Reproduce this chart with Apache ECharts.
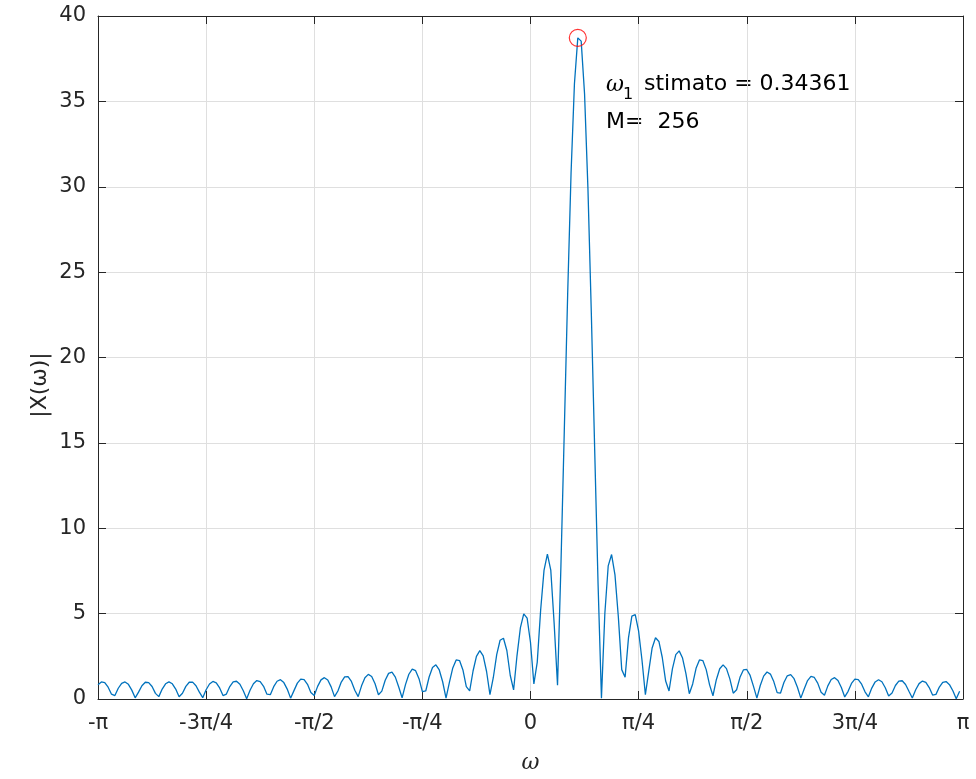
<!DOCTYPE html>
<html>
<head>
  <meta charset="utf-8">
  <title>DFT magnitude</title>
  <script src="https://cdn.jsdelivr.net/npm/echarts@6/dist/echarts.min.js"></script>
</head>
<body style="margin:0">
<div id="main" style="width: 976px;height:779px;"></div>

<script type="text/javascript">
  // |X(w)|, M = 256 campioni da -pi a pi
  const M = 256;
  const magnitude = [
    0.83, 1.00, 0.96, 0.69, 0.28, 0.20, 0.63, 0.92, 1.00, 0.86, 0.52, 0.07, 0.40, 0.78, 0.98, 0.96,
    0.73, 0.33, 0.14, 0.58, 0.89, 1.00, 0.89, 0.58, 0.13, 0.34, 0.74, 0.98, 0.99, 0.78, 0.40, 0.08,
    0.54, 0.88, 1.03, 0.95, 0.65, 0.20, 0.29, 0.73, 1.00, 1.04, 0.86, 0.48, 0.02, 0.51, 0.89, 1.08,
    1.02, 0.74, 0.28, 0.25, 0.72, 1.04, 1.13, 0.96, 0.58, 0.05, 0.49, 0.93, 1.16, 1.14, 0.86, 0.38,
    0.20, 0.74, 1.12, 1.25, 1.11, 0.71, 0.14, 0.47, 0.99, 1.29, 1.31, 1.03, 0.51, 0.14, 0.77, 1.24,
    1.44, 1.32, 0.89, 0.25, 0.46, 1.10, 1.50, 1.57, 1.28, 0.70, 0.07, 0.84, 1.45, 1.75, 1.66, 1.19,
    0.43, 0.47, 1.29, 1.84, 2.00, 1.70, 1.01, 0.05, 0.97, 1.82, 2.29, 2.25, 1.70, 0.72, 0.48, 1.64,
    2.50, 2.83, 2.52, 1.61, 0.26, 1.26, 2.60, 3.44, 3.56, 2.84, 1.39, 0.53, 2.53, 4.16, 4.99, 4.74,
    3.31, 0.88, 2.16, 5.20, 7.53, 8.49, 7.55, 4.42, 0.81, 7.76, 15.69, 23.70, 30.78, 36.02, 38.72, 38.53,
    35.43, 29.89, 22.61, 14.56, 6.71, 0.04, 4.99, 7.80, 8.46, 7.27, 4.80, 1.72, 1.27, 3.58, 4.85, 4.94,
    3.97, 2.27, 0.25, 1.63, 2.99, 3.59, 3.37, 2.43, 1.05, 0.47, 1.77, 2.60, 2.82, 2.40, 1.49, 0.31,
    0.88, 1.80, 2.29, 2.25, 1.72, 0.83, 0.19, 1.13, 1.77, 2.00, 1.78, 1.18, 0.34, 0.54, 1.27, 1.70,
    1.73, 1.38, 0.74, 0.05, 0.79, 1.34, 1.58, 1.46, 1.02, 0.37, 0.35, 0.97, 1.36, 1.43, 1.19, 0.69,
    0.05, 0.59, 1.08, 1.32, 1.26, 0.93, 0.39, 0.22, 0.77, 1.14, 1.25, 1.08, 0.67, 0.12, 0.45, 0.91,
    1.16, 1.14, 0.87, 0.42, 0.13, 0.64, 1.00, 1.13, 1.01, 0.66, 0.17, 0.35, 0.79, 1.05, 1.07, 0.85,
    0.45, 0.06, 0.54, 0.90, 1.05, 0.97, 0.67, 0.23, 0.27, 0.70, 0.97, 1.02, 0.84, 0.48, 0.01, 0.46
  ];
  const xTickLabels = ['-\u03c0', '-3\u03c0/4', '-\u03c0/2', '-\u03c0/4', '0', '\u03c0/4', '\u03c0/2', '3\u03c0/4', '\u03c0'];
  const peakOmega = [0.34361];
  const peakValue = [38.72];

  const omega = magnitude.map(function (v, k) { return -Math.PI + 2 * Math.PI * k / M; });
  const lineData = magnitude.map(function (v, k) { return [omega[k], v]; });
  const peakData = peakOmega.map(function (w, i) { return [w, peakValue[i]]; });

  const axisColor = '#262626';
  const font = 'DejaVu Sans';

  function piLabel(value) {
    const idx = Math.round((value + Math.PI) / (Math.PI / 4));
    return xTickLabels[idx] !== undefined ? xTickLabels[idx] : '';
  }

  let myChart = echarts.init(document.getElementById('main'));
  let option = {
    animation: false,
    grid: {left: 98, right: 13, top: 16, bottom: 78},
    xAxis: [{
      type: 'value',
      min: -Math.PI,
      max: Math.PI,
      interval: Math.PI / 4,
      name: '\u03c9',
      nameLocation: 'middle',
      nameGap: 53,
      nameTextStyle: {fontSize: 22, fontStyle: 'italic', fontFamily: 'DejaVu Serif', color: axisColor},
      axisLine: {onZero: false, lineStyle: {color: axisColor, width: 1}},
      axisTick: {inside: true, length: 8, lineStyle: {color: axisColor}},
      axisLabel: {formatter: piLabel, fontSize: 21, fontFamily: font, color: axisColor, margin: 14},
      splitLine: {show: true, lineStyle: {color: '#dfdfdf', width: 1}}
    }, {
      type: 'value',
      position: 'top',
      min: -Math.PI,
      max: Math.PI,
      interval: Math.PI / 4,
      axisLine: {onZero: false, lineStyle: {color: axisColor, width: 1}},
      axisTick: {inside: true, length: 8, lineStyle: {color: axisColor}},
      axisLabel: {show: false},
      splitLine: {show: false}
    }],
    yAxis: [{
      type: 'value',
      min: 0,
      max: 40,
      interval: 5,
      axisLine: {show: true, onZero: false, lineStyle: {color: axisColor, width: 1}},
      axisTick: {show: true, inside: true, length: 8, lineStyle: {color: axisColor}},
      axisLabel: {fontSize: 21, fontFamily: font, color: axisColor, margin: 12},
      splitLine: {show: true, lineStyle: {color: '#dfdfdf', width: 1}}
    }, {
      type: 'value',
      position: 'right',
      min: 0,
      max: 40,
      interval: 5,
      axisLine: {show: true, onZero: false, lineStyle: {color: axisColor, width: 1}},
      axisTick: {show: true, inside: true, length: 8, lineStyle: {color: axisColor}},
      axisLabel: {show: false},
      splitLine: {show: false}
    }],
    series: [{
      type: 'line',
      data: lineData,
      showSymbol: false,
      lineStyle: {color: '#0072BD', width: 1.3},
      z: 3
    }, {
      type: 'scatter',
      data: peakData,
      symbol: 'circle',
      symbolSize: 17,
      itemStyle: {color: 'rgba(0,0,0,0)', borderColor: '#ff0000', borderWidth: 1.2},
      z: 4
    }],
    graphic: [
      {type: 'text', x: 40, y: 385, rotation: Math.PI / 2,
        style: {text: '|X(\u03c9)|', fontSize: 22, fontFamily: font, fill: axisColor, align: 'center', verticalAlign: 'middle'}},
      {type: 'text', left: 606, top: 74, style: {text: '\u03c9', fontSize: 22, fontStyle: 'italic', fontFamily: 'DejaVu Serif', fill: '#000'}},
      {type: 'text', left: 623, top: 87, style: {text: '1', fontSize: 16, fontFamily: font, fill: '#000'}},
      {type: 'text', left: 644, top: 73, style: {text: 'stimato = 0.34361', fontSize: 22, fontFamily: font, fill: '#000'}},
      {type: 'text', left: 606, top: 111, style: {text: 'M=  256', fontSize: 22, fontFamily: font, fill: '#000'}}
    ]
  };
  myChart.setOption(option);
</script>
</body>
</html>
